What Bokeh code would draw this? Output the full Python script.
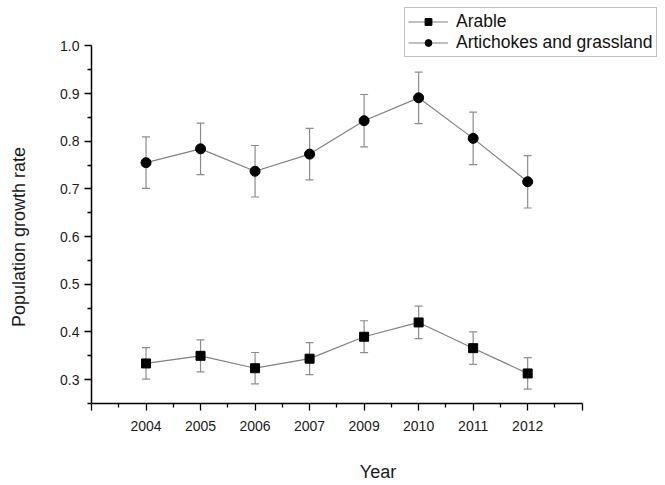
from bokeh.plotting import figure
from bokeh.models import (Range1d, FixedTicker, ColumnDataSource, Whisker, TeeHead,
                          Legend, LegendItem)
from bokeh.embed import file_html
from bokeh.resources import INLINE

# ---- data ----
years = ["2004", "2005", "2006", "2007", "2009", "2010", "2011", "2012"]
arable = [0.334, 0.350, 0.324, 0.344, 0.390, 0.420, 0.366, 0.313]
arable_err = [0.033, 0.0335, 0.033, 0.0335, 0.0335, 0.034, 0.034, 0.033]
artichoke = [0.755, 0.784, 0.737, 0.773, 0.843, 0.891, 0.806, 0.715]
artichoke_err = [0.054, 0.054, 0.054, 0.054, 0.055, 0.054, 0.055, 0.055]
y_ticks = [0.3, 0.4, 0.5, 0.6, 0.7, 0.8, 0.9, 1.0]

xpos = [i + 1 for i in range(len(years))]

FONT = "Liberation Sans"

W, H = 664, 484
LEFT, BOTTOM = 91, 78
x_axis_max = len(years) + 1          # axis drawn from 0 to 9
px_per_x = 490.7 / x_axis_max
y_lo, y_hi = 0.25, 1.0
top_gap = 45.7                       # pixels above the 1.0 tick
px_per_y = (H - BOTTOM - top_gap) / (y_hi - y_lo)

p = figure(width=W, height=H, output_backend="svg", toolbar_location=None,
           x_range=Range1d(0, (W - LEFT) / px_per_x),
           y_range=Range1d(y_lo, y_hi + top_gap / px_per_y),
           min_border_left=LEFT, min_border_right=0, min_border_top=0,
           min_border_bottom=BOTTOM)
p.outline_line_color = None
p.grid.visible = False
p.background_fill_color = "white"
p.border_fill_color = "white"

src_a = ColumnDataSource(dict(x=xpos, y=arable,
                              lo=[v - e for v, e in zip(arable, arable_err)],
                              hi=[v + e for v, e in zip(arable, arable_err)]))
src_b = ColumnDataSource(dict(x=xpos, y=artichoke,
                              lo=[v - e for v, e in zip(artichoke, artichoke_err)],
                              hi=[v + e for v, e in zip(artichoke, artichoke_err)]))

err_col = "#8c8c8c"
for src in (src_a, src_b):
    w = Whisker(source=src, base="x", upper="hi", lower="lo", line_color=err_col,
                line_width=1.2,
                upper_head=TeeHead(size=8, line_color=err_col, line_width=1.2),
                lower_head=TeeHead(size=8, line_color=err_col, line_width=1.2))
    p.add_layout(w)

line_col = "#808080"
la = p.line("x", "y", source=src_a, line_color=line_col, line_width=1.2)
sa = p.scatter("x", "y", source=src_a, marker="square", size=9, fill_color="black",
               line_color="black")
lb = p.line("x", "y", source=src_b, line_color=line_col, line_width=1.2)
sb = p.scatter("x", "y", source=src_b, marker="circle", size=10, fill_color="black",
               line_color="black")

# axes
xt = list(range(0, x_axis_max + 1))
p.xaxis.ticker = FixedTicker(ticks=xt, minor_ticks=[t + 0.5 for t in xt[:-1]])
ov = {0: "", x_axis_max: ""}
for i, yr in enumerate(years):
    ov[i + 1] = yr
p.xaxis.major_label_overrides = ov
p.xaxis.bounds = (0, x_axis_max)
p.yaxis.ticker = FixedTicker(ticks=y_ticks,
                             minor_ticks=[round(t - 0.05, 2) for t in y_ticks])
p.yaxis.major_label_overrides = {t: f"{t:.1f}" for t in y_ticks}
p.yaxis.bounds = (y_lo, y_hi)

for ax in (p.xaxis[0], p.yaxis[0]):
    ax.axis_line_color = "black"
    ax.axis_line_width = 1.5
    ax.major_tick_line_color = "black"
    ax.minor_tick_line_color = "black"
    ax.major_tick_line_width = 1.3
    ax.minor_tick_line_width = 1.3
    ax.major_tick_in = 0
    ax.major_tick_out = 7
    ax.minor_tick_in = 0
    ax.minor_tick_out = 4
    ax.major_label_text_font = FONT
    ax.major_label_text_font_size = "14px"
    ax.major_label_text_color = "#1a1a1a"
    ax.axis_label_text_font = FONT
    ax.axis_label_text_font_size = "18px"
    ax.axis_label_text_font_style = "normal"
    ax.axis_label_text_color = "#1a1a1a"
    ax.major_label_standoff = 5

p.xaxis.axis_label = "Year"
p.xaxis.major_label_standoff = 10
p.xaxis.axis_label_standoff = 28
# trailing no-break spaces shift the rotated label down along the axis
p.yaxis.axis_label = "Population growth rate" + "\u00a0" * 14
p.yaxis.axis_label_standoff = 28

legend = Legend(items=[LegendItem(label="Arable", renderers=[la, sa]),
                       LegendItem(label="Artichokes and grassland", renderers=[lb, sb])],
                location=(313, 346), padding=3, spacing=0, margin=0,
                label_height=17, glyph_height=17, glyph_width=40, label_standoff=8,
                label_text_font=FONT, label_text_font_size="17.5px",
                label_text_color="#111111",
                border_line_color="#888888", border_line_width=1,
                background_fill_color="white", background_fill_alpha=1.0)
p.add_layout(legend, "center")

open("out.html", "w").write(file_html(p, INLINE))
